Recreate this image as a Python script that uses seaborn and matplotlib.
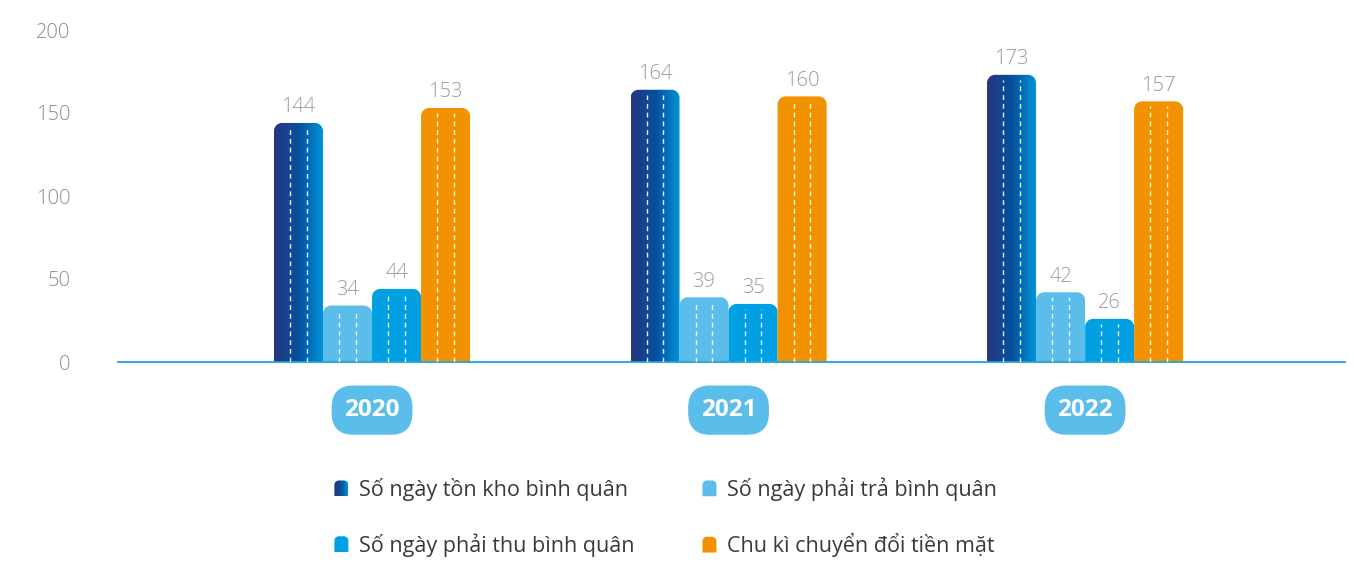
import numpy as np
import pandas as pd
import matplotlib
matplotlib.use("Agg")
import matplotlib.pyplot as plt
import seaborn as sns
from matplotlib.path import Path
from matplotlib.patches import PathPatch, Rectangle
from matplotlib.legend_handler import HandlerBase
from matplotlib.colors import LinearSegmentedColormap

years = ["2020", "2021", "2022"]
series = ["Số ngày tồn kho bình quân", "Số ngày phải trả bình quân",
          "Số ngày phải thu bình quân", "Chu kì chuyển đổi tiền mặt"]
ton_kho = [144, 164, 173]
phai_tra = [34, 39, 42]
phai_thu = [44, 35, 26]
chu_ki = [153, 160, 157]
yticks = [0, 50, 100, 150, 200]

colors = ["#0a56a2", "#5bbde9", "#00a0e2", "#f39200"]
grad = LinearSegmentedColormap.from_list("g", ["#27367f", "#06509e", "#0096da"])

sns.set_theme(style="white")
plt.rcParams["font.family"] = ["Open Sans", "DejaVu Sans"]

df = pd.DataFrame({
    "year": np.repeat(years, 4),
    "series": series * 3,
    "value": [v for trio in zip(ton_kho, phai_tra, phai_thu, chu_ki) for v in trio],
})

W, H = 1354, 563
fig = plt.figure(figsize=(W / 100, H / 100), dpi=100)
ax = fig.add_axes([118 / W, (H - 362) / H, (1345 - 118) / W, (362 - 30) / H])

sns.barplot(data=df, x="year", y="value", hue="series", order=years, hue_order=series,
            palette=colors, width=0.55, gap=0, saturation=1, legend=False, ax=ax,
            errorbar=None)

XL = (-0.7125, 2.729)
ax.set_xlim(*XL)
ax.set_ylim(0, 200)

# px per data unit
sx = (1345 - 118) / (XL[1] - XL[0])
sy = (362 - 30) / 200.0
r_px = 8
rx, ry = r_px / sx, r_px / sy
k = 0.5523


def round_top_path(x0, w, h, rx, ry):
    rx = min(rx, w / 2)
    ry = min(ry, h)
    verts = [(x0, 0), (x0, h - ry),
             (x0, h - ry + k * ry), (x0 + rx - k * rx, h), (x0 + rx, h),
             (x0 + w - rx, h),
             (x0 + w - rx + k * rx, h), (x0 + w, h - ry + k * ry), (x0 + w, h - ry),
             (x0 + w, 0), (x0, 0)]
    codes = [Path.MOVETO, Path.LINETO,
             Path.CURVE4, Path.CURVE4, Path.CURVE4,
             Path.LINETO,
             Path.CURVE4, Path.CURVE4, Path.CURVE4,
             Path.LINETO, Path.CLOSEPOLY]
    return Path(verts, codes)


for si, cont in enumerate(ax.containers):
    for bar in cont:
        x0, w, h = bar.get_x(), bar.get_width(), bar.get_height()
        fc = bar.get_facecolor()
        bar.set_visible(False)
        path = round_top_path(x0, w, h, rx, ry)
        if si == 0:
            pp = PathPatch(path, facecolor="none", edgecolor="none")
            ax.add_patch(pp)
            img = ax.imshow(np.linspace(0, 1, 256).reshape(1, -1), cmap=grad, aspect="auto",
                            extent=[x0, x0 + w, 0, h], zorder=2)
            img.set_clip_path(pp)
        else:
            pp = PathPatch(path, facecolor=fc, edgecolor="none", zorder=2)
            ax.add_patch(pp)
        cx = x0 + w / 2
        off = 0.17 * w
        ax.vlines([cx - off, cx + off], 0, h - ry * 0.6, colors="white", alpha=0.9,
                  linewidth=1.0, linestyles=(0, (3.5, 2.8)), zorder=3)
        ax.annotate(f"{h:.0f}", (cx, h), xytext=(0, 4), textcoords="offset points",
                    ha="center", va="bottom", fontsize=14.5, color="#9a9a9a",
                    fontweight="light")

ax.set_aspect("auto")
ax.set_xlim(*XL)
ax.set_ylim(0, 200)

sns.despine(ax=ax, left=True, top=True, right=True, bottom=False)
ax.spines["bottom"].set_color("#1fa3e0")
ax.spines["bottom"].set_linewidth(1.3)
ax.set_yticks(yticks)
ax.set_yticklabels([str(t) for t in yticks])
ax.tick_params(axis="y", length=0, pad=34, labelsize=14.5, labelcolor="#8c8c8c")
for t in ax.get_yticklabels():
    t.set_fontweight("light")
ax.set_xticks([])
ax.set_xlabel("")
ax.set_ylabel("")
ax.grid(False)

for i, yr in enumerate(years):
    ax.text(i, -29, yr, ha="center", va="center", fontsize=17.5, fontweight="bold",
            color="white", clip_on=False,
            bbox=dict(boxstyle="round,pad=0.52,rounding_size=0.9", fc="#5bbde9", ec="none"))


class RoundTopHandler(HandlerBase):
    def __init__(self, color=None, gradient=False):
        super().__init__()
        self.color = color
        self.gradient = gradient

    def create_artists(self, legend, orig_handle, xdescent, ydescent, width, height,
                       fontsize, trans):
        x0, y0 = -xdescent, -ydescent
        r = 3.2
        verts = [(x0, y0), (x0, y0 + height - r),
                 (x0, y0 + height - r + k * r), (x0 + r - k * r, y0 + height), (x0 + r, y0 + height),
                 (x0 + width - r, y0 + height),
                 (x0 + width - r + k * r, y0 + height), (x0 + width, y0 + height - r + k * r),
                 (x0 + width, y0 + height - r),
                 (x0 + width, y0), (x0, y0)]
        codes = [Path.MOVETO, Path.LINETO, Path.CURVE4, Path.CURVE4, Path.CURVE4, Path.LINETO,
                 Path.CURVE4, Path.CURVE4, Path.CURVE4, Path.LINETO, Path.CLOSEPOLY]
        base = PathPatch(Path(verts, codes), facecolor=self.color if not self.gradient else "none",
                         edgecolor="none", transform=trans)
        arts = [base]
        if self.gradient:
            n = 12
            for j in range(n):
                rect = Rectangle((x0 + width * j / n, y0), width / n * 1.05, height,
                                 facecolor=grad((j + 0.5) / n), edgecolor="none", transform=trans)
                rect.set_clip_path(base)
                arts.append(rect)
        return arts


handles = [Rectangle((0, 0), 1, 1) for _ in range(4)]
order = [0, 2, 1, 3]
hmap = {handles[0]: RoundTopHandler(gradient=True),
        handles[1]: RoundTopHandler(colors[1]),
        handles[2]: RoundTopHandler(colors[2]),
        handles[3]: RoundTopHandler(colors[3])}
leg = fig.legend([handles[i] for i in order], [series[i] for i in order],
                 handler_map=hmap, ncol=2, loc="upper left",
                 bbox_to_anchor=(315 / W, 1 - 458 / H), frameon=False,
                 fontsize=15.5, handlelength=0.65, handleheight=0.75, handletextpad=0.5,
                 labelspacing=1.5, columnspacing=3.15, labelcolor="#3a3a3a")

fig.savefig("out.png", dpi=100)
